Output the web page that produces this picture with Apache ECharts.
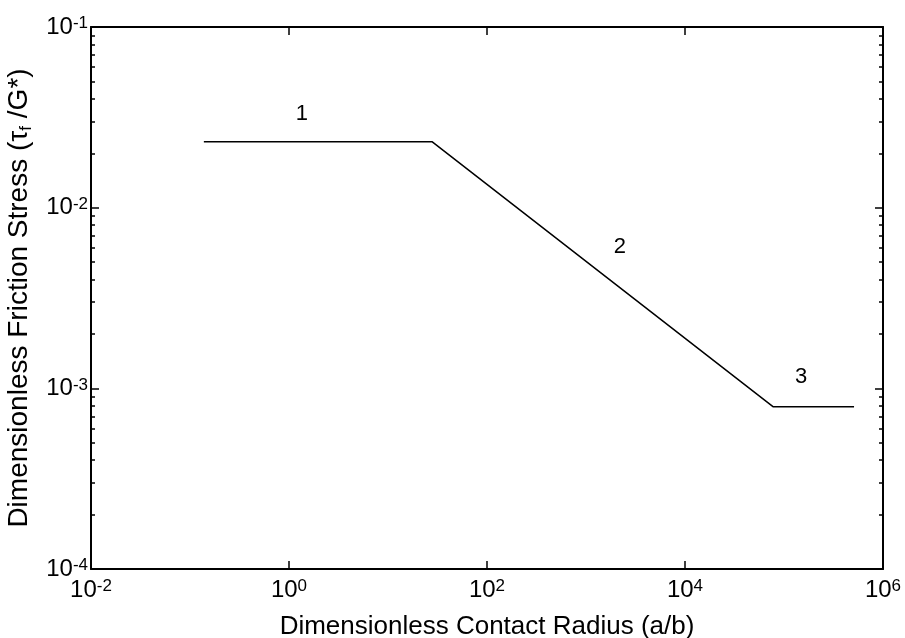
<!DOCTYPE html>
<html>
<head>
<meta charset="utf-8">
<script src="https://cdn.jsdelivr.net/npm/echarts@6/dist/echarts.min.js"></script>
<style>
html,body{margin:0;padding:0;background:#fff;}
#data_show{width:905px;height:638px;}
</style>
</head>
<body>
<div id="data_show"></div>
<script>
// 折线三段：平台 1 / 斜线 2 / 平台 3
var radius_data = [0.138, 27.8, 77400, 510000];
var stress_data = [0.0232, 0.0232, 0.000792, 0.000792];

// 段号标注
var region_names = ['1', '2', '3'];
var region_x = [1.35, 2200, 149000];
var region_y = [0.033, 0.0061, 0.00115];

// 刻度
var x_ticks = [1e-2, 1e0, 1e2, 1e4, 1e6];
var y_ticks = [1e-4, 1e-3, 1e-2, 1e-1];
var y_minor_ticks = [2e-4,3e-4,4e-4,5e-4,6e-4,7e-4,8e-4,9e-4,
                     2e-3,3e-3,4e-3,5e-3,6e-3,7e-3,8e-3,9e-3,
                     2e-2,3e-2,4e-2,5e-2,6e-2,7e-2,8e-2,9e-2];

var font = 'Arial, "Liberation Sans", sans-serif';

function pow_label(v){
	return '{b|10}{e|' + Math.round(Math.log10(v)) + '}';
}
var pow_rich = {
	b: {fontSize: 24, fontFamily: font, color: '#000', lineHeight: 24, verticalAlign: 'bottom'},
	e: {fontSize: 17, fontFamily: font, color: '#000', lineHeight: 17, verticalAlign: 'top', padding: [0, 0, 14, 0]}
};

function x_axis(pos, show_label){
	return {
		type: 'log',
		position: pos,
		min: 1e-2,
		max: 1e6,
		logBase: 10,
		axisLine: {show: true, onZero: false, lineStyle: {color: '#000', width: 2}},
		axisTick: {show: true, inside: true, length: 8, customValues: x_ticks, lineStyle: {color: '#000', width: 1.5}},
		axisLabel: {
			show: show_label, customValues: x_ticks, margin: 9,
			fontSize: 24, fontFamily: font, color: '#000',
			formatter: pow_label, rich: pow_rich
		},
		splitLine: {show: false},
		minorTick: {show: false},
		name: show_label ? 'Dimensionless Contact Radius (a/b)' : '',
		nameLocation: 'middle',
		nameGap: 38,
		nameTextStyle: {fontSize: 26, fontFamily: font, color: '#000'}
	};
}

function y_axis(pos, ticks, len, show_label, show_line){
	return {
		type: 'log',
		position: pos,
		min: 1e-4,
		max: 1e-1,
		logBase: 10,
		axisLine: {show: show_line, onZero: false, lineStyle: {color: '#000', width: 2}},
		axisTick: {show: true, inside: true, length: len, customValues: ticks, lineStyle: {color: '#000', width: 1.5}},
		axisLabel: {
			show: show_label, customValues: y_ticks, margin: 3,
			fontSize: 24, fontFamily: font, color: '#000',
			formatter: pow_label, rich: pow_rich
		},
		splitLine: {show: false},
		minorTick: {show: false},
		name: show_label ? '{t|Dimensionless Friction Stress (τ}{s|f}{t| /G*)}' : '',
		nameLocation: 'middle',
		nameRotate: 90,
		nameGap: 44,
		nameTextStyle: {
			fontSize: 28, fontFamily: font, color: '#000',
			rich: {
				t: {fontSize: 28, fontFamily: font, color: '#000', lineHeight: 30, verticalAlign: 'top'},
				s: {fontSize: 17, fontFamily: font, color: '#000', lineHeight: 18, verticalAlign: 'bottom', padding: [14, 0, 0, 0]}
			}
		}
	};
}

var chart = echarts.init(document.getElementById('data_show'));

var line_points = radius_data.map(function(x, i){ return [x, stress_data[i]]; });
var label_points = region_names.map(function(n, i){ return {name: n, value: [region_x[i], region_y[i]]}; });

var option = {
	backgroundColor: '#fff',
	animation: false,
	grid: {left: 91, right: 22, top: 27, bottom: 69, containLabel: false, outerBoundsMode: 'none'},
	xAxis: [
		x_axis('bottom', true),
		x_axis('top', false)
	],
	yAxis: [
		y_axis('left', y_ticks, 8, true, true),
		y_axis('left', y_minor_ticks, 4, false, false),
		y_axis('right', y_ticks, 8, false, true),
		y_axis('right', y_minor_ticks, 4, false, false)
	],
	series: [
		{
			name: 'stress',
			type: 'line',
			data: line_points,
			symbol: 'none',
			lineStyle: {color: '#000', width: 1.5}
		},
		{
			name: 'regions',
			type: 'scatter',
			data: label_points,
			symbolSize: 0,
			itemStyle: {opacity: 1},
			label: {
				show: true,
				position: 'inside',
				formatter: '{b}',
				fontSize: 22,
				fontFamily: font,
				color: '#000'
			}
		}
	]
};
chart.setOption(option);
</script>
</body>
</html>
